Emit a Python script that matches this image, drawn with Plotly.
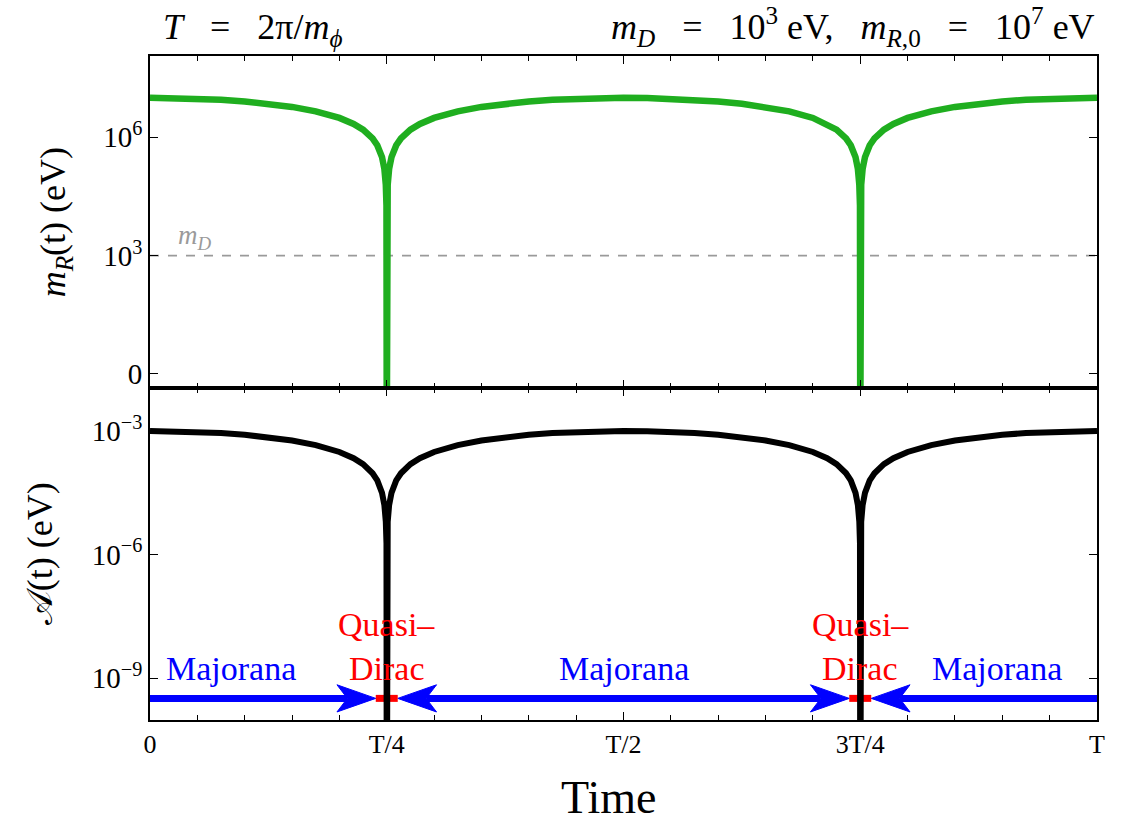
import math
import plotly.graph_objects as go
from plotly.subplots import make_subplots

# Time in units of the period T
t = [0, 0.025, 0.05, 0.075, 0.10, 0.125, 0.15, 0.175, 0.20, 0.215, 0.225, 0.235,
     0.24, 0.245, 0.2475, 0.249, 0.2497, 0.25, 0.2503, 0.251, 0.2525, 0.255, 0.26,
     0.265, 0.275, 0.285, 0.30, 0.325, 0.35, 0.375, 0.40, 0.425, 0.45, 0.475, 0.50,
     0.525, 0.55, 0.575, 0.60, 0.625, 0.65, 0.675, 0.70, 0.715, 0.725, 0.735,
     0.74, 0.745, 0.7475, 0.749, 0.7497, 0.75, 0.7503, 0.751, 0.7525, 0.755, 0.76,
     0.765, 0.775, 0.785, 0.80, 0.825, 0.85, 0.875, 0.90, 0.925, 0.95, 0.975, 1.0]

# Right-handed mass m_R(t) in eV
m_R = [1.00e7, 9.88e6, 9.51e6, 8.91e6, 8.09e6, 7.07e6, 5.88e6, 4.54e6, 3.09e6, 2.18e6, 1.56e6, 9.41e5,
       6.28e5, 3.14e5, 1.57e5, 6.28e4, 1.88e4, 1e-2, 1.88e4, 6.28e4, 1.57e5, 3.14e5, 6.28e5,
       9.41e5, 1.56e6, 2.18e6, 3.09e6, 4.54e6, 5.88e6, 7.07e6, 8.09e6, 8.91e6, 9.51e6, 9.88e6, 1.00e7,
       9.88e6, 9.51e6, 8.91e6, 8.09e6, 7.07e6, 5.88e6, 4.54e6, 3.09e6, 2.18e6, 1.56e6, 9.41e5,
       6.28e5, 3.14e5, 1.57e5, 6.28e4, 1.88e4, 1e-2, 1.88e4, 6.28e4, 1.57e5, 3.14e5, 6.28e5,
       9.41e5, 1.56e6, 2.18e6, 3.09e6, 4.54e6, 5.88e6, 7.07e6, 8.09e6, 8.91e6, 9.51e6, 9.88e6, 1.00e7]

# Amplitude A(t) in eV
A = [1.00e-3, 9.88e-4, 9.51e-4, 8.91e-4, 8.09e-4, 7.07e-4, 5.88e-4, 4.54e-4, 3.09e-4, 2.18e-4, 1.56e-4, 9.41e-5,
     6.28e-5, 3.14e-5, 1.57e-5, 6.28e-6, 1.88e-6, 1e-14, 1.88e-6, 6.28e-6, 1.57e-5, 3.14e-5, 6.28e-5,
     9.41e-5, 1.56e-4, 2.18e-4, 3.09e-4, 4.54e-4, 5.88e-4, 7.07e-4, 8.09e-4, 8.91e-4, 9.51e-4, 9.88e-4, 1.00e-3,
     9.88e-4, 9.51e-4, 8.91e-4, 8.09e-4, 7.07e-4, 5.88e-4, 4.54e-4, 3.09e-4, 2.18e-4, 1.56e-4, 9.41e-5,
     6.28e-5, 3.14e-5, 1.57e-5, 6.28e-6, 1.88e-6, 1e-14, 1.88e-6, 6.28e-6, 1.57e-5, 3.14e-5, 6.28e-5,
     9.41e-5, 1.56e-4, 2.18e-4, 3.09e-4, 4.54e-4, 5.88e-4, 7.07e-4, 8.09e-4, 8.91e-4, 9.51e-4, 9.88e-4, 1.00e-3]

m_D = 1e3  # Dirac mass, eV

x_tickvals = [0, 0.25, 0.5, 0.75, 1.0]
x_ticktext = ["0", "T/4", "T/2", "3T/4", "T"]
top_tickvals = [1, 1e3, 1e6]
top_ticktext = ["0", "10<sup>3</sup>", "10<sup>6</sup>"]
bot_tickvals = [1e-9, 1e-6, 1e-3]
bot_ticktext = ["10<sup>\u22129</sup>", "10<sup>\u22126</sup>", "10<sup>\u22123</sup>"]

# Regime bar: quasi-Dirac windows around the zeros of m_R
qd_centers = [0.25, 0.75]
qd_halfwidth = 0.0116
regime_level = 3.2e-10
regime_labels = ["Majorana", "Majorana", "Majorana"]
regime_label_x = [0.085, 0.5, 0.894]

GREEN = "#1fae1f"
BLUE = "#0000ff"
RED = "#ff0000"
SERIF = "Liberation Serif, Times New Roman, serif"
NB = "\u00a0"
EQ = f"{NB * 3}={NB * 3}"

fig = make_subplots(rows=2, cols=1, shared_xaxes=True, vertical_spacing=0)

# Top panel: m_R(t) and the m_D reference line
fig.add_trace(go.Scatter(x=[0, 1], y=[m_D, m_D], mode="lines",
                         line=dict(color="#9a9a9a", width=1.6, dash="dash"),
                         hoverinfo="skip"), row=1, col=1)
fig.add_trace(go.Scatter(x=t, y=m_R, mode="lines",
                         line=dict(color=GREEN, width=6.5)), row=1, col=1)

# Bottom panel: regime bar with arrowheads
arrow_len = 0.041      # in units of T
arrow_half = 0.33      # in decades
notch = 0.011
lvl = math.log10(regime_level)

edges = [0.0]
for c in qd_centers:
    edges += [c - qd_halfwidth, c + qd_halfwidth]
edges.append(1.0)

for i in range(0, len(edges), 2):
    x0, x1 = edges[i], edges[i + 1]
    xs0 = x0 + (arrow_len - notch if x0 > 0 else 0)
    xs1 = x1 - (arrow_len - notch if x1 < 1 else 0)
    fig.add_trace(go.Scatter(x=[xs0, xs1], y=[regime_level, regime_level], mode="lines",
                             line=dict(color=BLUE, width=7), hoverinfo="skip"), row=2, col=1)


def arrowhead(tip, direction):
    back = tip - direction * arrow_len
    mid = tip - direction * (arrow_len - notch)
    xs = [tip, back, mid, back, tip]
    ys = [10 ** lvl, 10 ** (lvl + arrow_half), 10 ** lvl, 10 ** (lvl - arrow_half), 10 ** lvl]
    return go.Scatter(x=xs, y=ys, mode="lines", fill="toself", fillcolor=BLUE,
                      line=dict(color=BLUE, width=1), hoverinfo="skip")


for c in qd_centers:
    fig.add_trace(arrowhead(c - qd_halfwidth, 1), row=2, col=1)
    fig.add_trace(arrowhead(c + qd_halfwidth, -1), row=2, col=1)
    fig.add_trace(go.Scatter(x=[c - qd_halfwidth, c + qd_halfwidth],
                             y=[regime_level, regime_level], mode="lines",
                             line=dict(color=RED, width=7), hoverinfo="skip"), row=2, col=1)

fig.add_trace(go.Scatter(x=t, y=A, mode="lines",
                         line=dict(color="black", width=6)), row=2, col=1)

axis_common = dict(showline=True, linecolor="black", linewidth=1.8, mirror="ticks",
                   ticks="inside", tickcolor="black", showgrid=False, zeroline=False)

fig.update_xaxes(range=[0, 1], tickvals=x_tickvals, ticktext=x_ticktext, ticklen=8,
                 tickfont=dict(family=SERIF, size=26, color="black"),
                 minor=dict(dtick=0.05, ticks="inside", ticklen=5, tickcolor="black", showgrid=False),
                 **axis_common)
fig.update_xaxes(showticklabels=False, row=1, col=1)

ytick_font = dict(family=SERIF, size=29, color="black")
fig.update_yaxes(type="log", range=[-0.356, 8.06], tickvals=top_tickvals, ticktext=top_ticktext,
                 ticklen=8, tickfont=ytick_font, row=1, col=1, **axis_common)
fig.update_yaxes(type="log", range=[-10.02, -1.956], tickvals=bot_tickvals, ticktext=bot_ticktext,
                 ticklen=8, tickfont=ytick_font, row=2, col=1, **axis_common)

ann = []
title_font = dict(family=SERIF, size=36, color="black")
ann.append(dict(text=f"<i>T</i>{EQ}2\u03c0/<i>m</i><sub><i>\u03d5</i></sub>",
                xref="paper", yref="paper", x=0.012, y=1.0, yshift=2,
                xanchor="left", yanchor="bottom", showarrow=False, font=title_font))
ann.append(dict(text=(f"<i>m</i><sub><i>D</i></sub>{EQ}10<sup>3</sup>{NB}eV,{NB * 3}"
                      f"<i>m</i><sub><i>R</i>,0</sub>{EQ}10<sup>7</sup>{NB}eV"),
                xref="paper", yref="paper", x=1.0, y=1.0, yshift=2, xanchor="right", yanchor="bottom",
                showarrow=False, font=title_font))
axis_title_font = dict(family=SERIF, size=36, color="black")
ann.append(dict(text="<i>m</i><sub><i>R</i></sub>(t) (eV)", xref="paper", yref="paper",
                x=-0.1, y=0.75, xanchor="center", yanchor="middle", textangle=-90,
                showarrow=False, font=axis_title_font))
ann.append(dict(text="\U0001d49c(t) (eV)", xref="paper", yref="paper",
                x=-0.116, y=0.25, xanchor="center", yanchor="middle", textangle=-90,
                showarrow=False, font=axis_title_font))
ann.append(dict(text="Time", xref="paper", yref="paper", x=0.484, y=-0.117,
                xanchor="center", yanchor="middle", showarrow=False,
                font=dict(family=SERIF, size=46, color="black")))
ann.append(dict(text="<i>m</i><sub><i>D</i></sub>", xref="x", yref="y", x=0.047, y=3.0,
                yanchor="bottom", showarrow=False, font=dict(family=SERIF, size=27, color="#9a9a9a")))

label_font_b = dict(family=SERIF, size=34, color=BLUE)
label_font_r = dict(family=SERIF, size=34, color=RED)
for lab, xl in zip(regime_labels, regime_label_x):
    ann.append(dict(text=lab, xref="x2", yref="y2", x=xl, y=-8.76, showarrow=False, font=label_font_b))
for c in qd_centers:
    ann.append(dict(text="Quasi\u2013", xref="x2", yref="y2", x=c, y=-7.71, showarrow=False, font=label_font_r))
    ann.append(dict(text="Dirac", xref="x2", yref="y2", x=c, y=-8.76, showarrow=False, font=label_font_r))

fig.update_layout(width=1132, height=830, margin=dict(l=150, r=35, t=56, b=110),
                  paper_bgcolor="white", plot_bgcolor="white", showlegend=False,
                  annotations=ann)

fig.write_html("out.html")
